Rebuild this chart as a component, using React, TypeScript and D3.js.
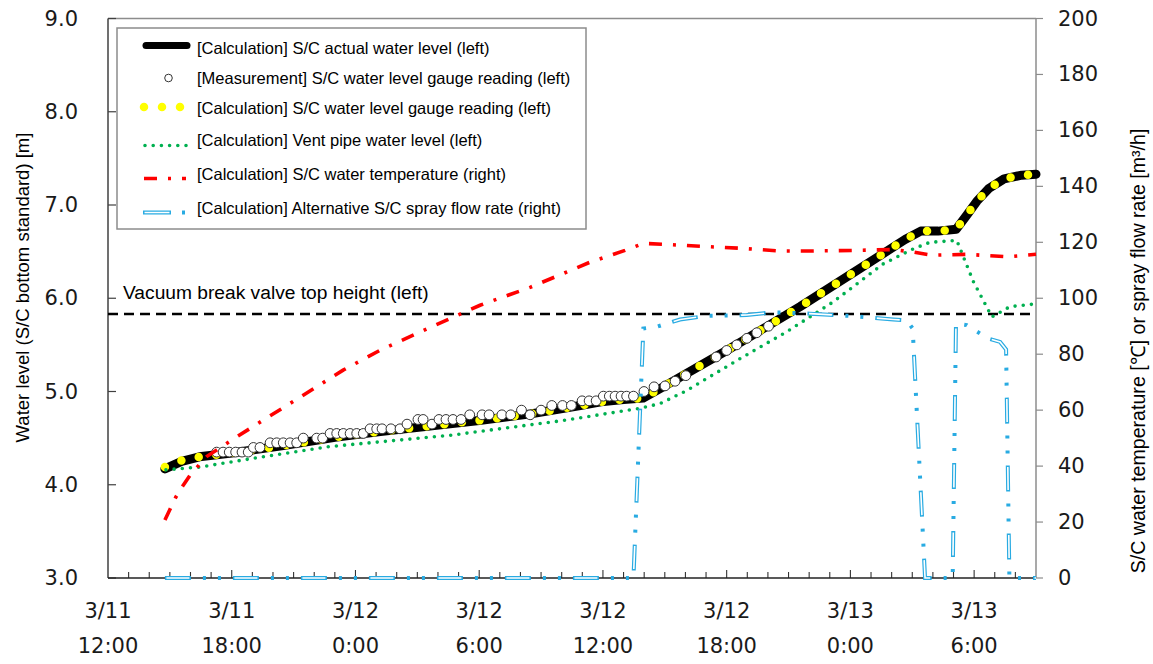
import React from 'react';
import * as d3 from 'd3';

// ---- axis / label data ----
const xTickHours = [0, 6, 12, 18, 24, 30, 36, 42];
const xTickDates = ['3/11', '3/11', '3/12', '3/12', '3/12', '3/12', '3/13', '3/13'];
const xTickTimes = ['12:00', '18:00', '0:00', '6:00', '12:00', '18:00', '0:00', '6:00'];
const leftTicks = [3, 4, 5, 6, 7, 8, 9];
const rightTicks = [0, 20, 40, 60, 80, 100, 120, 140, 160, 180, 200];
const vacuumLevel = 5.83;

// hours since 3/11 12:00
// [Calculation] S/C actual water level (left)
const actualHours = [2.76, 3.57, 4.43, 6.0, 8.5, 11.0, 13.2, 15.6, 18.0, 20.5, 22.9, 23.9, 25.0, 25.95, 26.92, 30.0, 33.56, 36.47, 38.65, 39.41, 40.25, 41.13, 41.64, 42.13, 42.73, 43.45, 44.31, 45.0];
const actualLevel = [4.17, 4.25, 4.3, 4.34, 4.42, 4.51, 4.57, 4.63, 4.69, 4.76, 4.85, 4.89, 4.915, 4.93, 5.05, 5.44, 5.91, 6.32, 6.63, 6.72, 6.72, 6.74, 6.89, 7.04, 7.18, 7.28, 7.32, 7.33];

// [Calculation] S/C water level gauge reading (left)
const gaugeCalcHours = [2.76, 3.57, 4.43, 6.0, 8.5, 11.0, 13.2, 15.6, 18.0, 20.5, 22.9, 23.9, 25.0, 25.95, 26.92, 30.0, 33.56, 36.47, 38.65, 39.41, 40.25, 41.13, 41.64, 42.13, 42.73, 43.45, 44.31, 45.0];
const gaugeCalcLevel = [4.19, 4.26, 4.3, 4.34, 4.42, 4.51, 4.57, 4.63, 4.69, 4.76, 4.85, 4.89, 4.915, 4.93, 5.05, 5.44, 5.91, 6.32, 6.63, 6.72, 6.72, 6.74, 6.89, 7.04, 7.18, 7.28, 7.32, 7.33];

// [Measurement] S/C water level gauge reading (left)
const measHours = [5.27, 5.58, 5.88, 6.19, 6.5, 6.8, 7.05, 7.37, 7.86, 8.18, 8.5, 8.83, 9.15, 9.47, 10.12, 10.41,
  10.77, 11.09, 11.41, 11.74, 12.06, 12.38, 12.71, 13.03, 13.29, 13.72, 14.16, 14.5, 15.03, 15.28, 15.71,
  16.05, 16.39, 16.73, 17.12, 17.54, 18.14, 18.48, 19.1, 19.53, 20.05, 20.47, 21.0, 21.52, 22.04, 22.47,
  22.99, 23.33, 23.67, 24.02, 24.31, 24.59, 24.88, 25.15, 25.48, 25.99, 26.48, 27.01, 27.5, 28.02,
  29.49, 30.0, 30.49, 30.98, 31.46, 32.03];
const measLevel = [4.35, 4.35, 4.35, 4.35, 4.35, 4.35, 4.4, 4.4, 4.45, 4.45, 4.45, 4.45, 4.45, 4.5, 4.5, 4.5,
  4.55, 4.55, 4.55, 4.55, 4.55, 4.55, 4.6, 4.6, 4.6, 4.6, 4.6, 4.65, 4.7, 4.7, 4.65,
  4.7, 4.7, 4.7, 4.7, 4.75, 4.75, 4.75, 4.75, 4.75, 4.8, 4.75, 4.8, 4.85, 4.85, 4.85,
  4.9, 4.9, 4.9, 4.95, 4.95, 4.95, 4.95, 4.95, 4.95, 5.0, 5.05, 5.06, 5.11, 5.17,
  5.37, 5.44, 5.5, 5.57, 5.63, 5.7];

// [Calculation] Vent pipe water level (left)
const ventHours = [2.81, 4.46, 7.52, 10.77, 16.59, 22.11, 25.8, 26.77, 28.06, 30.63, 32.91, 35.16, 37.6, 39.05, 39.86, 41.16, 41.96, 42.86, 43.74, 45.0];
const ventLevel = [4.16, 4.19, 4.3, 4.41, 4.53, 4.69, 4.82, 4.87, 5.01, 5.35, 5.64, 5.96, 6.37, 6.53, 6.6, 6.62, 6.18, 5.8, 5.91, 5.94];

// [Calculation] S/C water temperature (right)
const tempHours = [2.76, 3.28, 3.65, 4.0, 4.8, 6.0, 7.52, 9.31, 11.4, 13.19, 15.62, 18.04, 20.47, 23.38, 25.07, 25.96, 26.93, 28.71, 30.81, 32.59, 34.2, 36.14, 38.08, 39.05, 39.95, 41.64, 43.66, 45.0];
const tempValue = [20.7, 28.8, 33.2, 37.0, 43.5, 49.3, 56.4, 64.6, 74.3, 81.4, 89.6, 97.5, 103.9, 112.9, 117.1, 119.6, 119.3, 118.6, 117.8, 116.9, 116.9, 117.1, 117.4, 116.5, 115.4, 115.7, 114.8, 115.7];

// [Calculation] Alternative S/C spray flow rate (right)
const sprayHours = [2.76, 25.48, 25.96, 26.61, 27.74, 29.04, 30.97, 32.27, 34.04, 36.14, 38.08, 38.73, 39.02, 39.62, 40.96, 41.12, 41.64, 42.09, 42.69, 43.26, 43.55, 43.71, 45.0];
const sprayFlow = [0, 0, 89.2, 89.8, 92.4, 93.7, 94.0, 95.0, 94.5, 93.6, 92.4, 92.1, 89.2, 0, 0, 91, 90.4, 88.3, 85.6, 84.4, 81.7, 0, 0];

const legendLabels = [
  '[Calculation] S/C actual water level (left)',
  '[Measurement] S/C water level gauge reading (left)',
  '[Calculation] S/C water level gauge reading (left)',
  '[Calculation] Vent pipe water level (left)',
  '[Calculation] S/C water temperature (right)',
  '[Calculation] Alternative S/C spray flow rate (right)',
];

const NUM_FONT = '"DejaVu Sans", Verdana, sans-serif';
const TXT_FONT = '"Liberation Sans", Arial, sans-serif';

const RED_DASH = '13 11 3 11';
const BLUE_DASH = '26 12 3 12 3 12';
const BLUE_INNER = '0 1.5 23 43.5';

export default function App() {
  const W = 1153, H = 664;
  const x = d3.scaleLinear().domain([0, 45]).range([108, 1036]);
  const yL = d3.scaleLinear().domain([3, 9]).range([578, 18.5]);
  const yR = d3.scaleLinear().domain([0, 200]).range([578, 18.5]);
  const lineL = d3.line<[number, number]>().x(d => x(d[0])).y(d => yL(d[1]));
  const lineR = d3.line<[number, number]>().x(d => x(d[0])).y(d => yR(d[1]));
  const zip = (a: number[], b: number[]) => a.map((v, i) => [v, b[i]] as [number, number]);

  const actualPath = lineL(zip(actualHours, actualLevel)) || '';
  const gaugePath = lineL(zip(gaugeCalcHours, gaugeCalcLevel)) || '';
  const ventPath = lineL(zip(ventHours, ventLevel)) || '';
  const tempPath = lineR(zip(tempHours, tempValue)) || '';
  const sprayPath = lineR(zip(sprayHours, sprayFlow)) || '';
  const hourTicks = d3.range(1, 45);

  const x0 = 108, x1 = 1036, yTop = 18.5, yBot = 578;

  // legend geometry
  const lgX = 117, lgY = 28, lgW = 469, lgH = 201;
  const rowText = [48, 78, 107.5, 139.5, 173.5, 207.5];
  const symOff = [-2.5, 0, -0.5, 6, 5, 5];
  const sx0 = 143, sx1 = 187;

  const symbol = (i: number) => {
    const y = rowText[i] + symOff[i];
    switch (i) {
      case 0:
        return <line x1={sx0 + 3} x2={sx1} y1={y} y2={y} stroke="#000" strokeWidth={7} strokeLinecap="round" />;
      case 1:
        return <circle cx={168.5} cy={y} r={3.8} fill="#fff" stroke="#333" strokeWidth={1} />;
      case 2:
        return <line x1={144} x2={181} y1={y} y2={y} stroke="#FFFF00" strokeWidth={8.5} strokeLinecap="round" strokeDasharray="0 18" />;
      case 3:
        return <line x1={145} x2={187} y1={y} y2={y} stroke="#00B050" strokeWidth={3.6} strokeLinecap="round" strokeDasharray="0 8.2" />;
      case 4:
        return <line x1={144} x2={186} y1={y} y2={y} stroke="#FF0000" strokeWidth={3.6} strokeDasharray={RED_DASH} />;
      default:
        return (
          <g>
            <line x1={143} x2={186} y1={y} y2={y} stroke="#29ABE2" strokeWidth={4} strokeDasharray="28 11 3 20" />
            <line x1={143} x2={186} y1={y} y2={y} stroke="#fff" strokeWidth={1.6} strokeDasharray="0 1.5 25 60" />
          </g>
        );
    }
  };

  return (
    <svg width={W} height={H} viewBox={`0 0 ${W} ${H}`} style={{ position: 'absolute', left: 0, top: 0, background: '#fff' }}>
      <rect x={0} y={0} width={W} height={H} fill="#fff" />
      {/* plot border */}
      <line x1={x0} x2={x1} y1={yTop} y2={yTop} stroke="#8c8c8c" strokeWidth={1.5} />
      <line x1={x1} x2={x1} y1={yTop} y2={yBot} stroke="#8c8c8c" strokeWidth={1.5} />
      {/* left axis */}
      <line x1={x0} x2={x0} y1={yTop} y2={yBot} stroke="#404040" strokeWidth={1.5} />
      {leftTicks.map(v => (
        <g key={'l' + v}>
          <line x1={x0} x2={x0 + 8} y1={yL(v)} y2={yL(v)} stroke="#404040" strokeWidth={1.2} />
          <text x={78} y={yL(v)} textAnchor="end" dominantBaseline="central" fontFamily={NUM_FONT} fontSize={21} fill="#1a1a1a">{d3.format('.1f')(v)}</text>
        </g>
      ))}
      {/* right axis */}
      {rightTicks.map(v => (
        <g key={'r' + v}>
          <line x1={x1} x2={x1 + 7} y1={yR(v)} y2={yR(v)} stroke="#8c8c8c" strokeWidth={1.2} />
          <text x={1058} y={yR(v)} textAnchor="start" dominantBaseline="central" fontFamily={NUM_FONT} fontSize={21} fill="#1a1a1a">{v}</text>
        </g>
      ))}
      {/* bottom axis */}
      {hourTicks.map(h => (
        <line key={'h' + h} x1={x(h)} x2={x(h)} y1={yBot} y2={yBot - (h % 6 === 0 ? 8 : 6)} stroke="#333" strokeWidth={1.1} />
      ))}
      <line x1={x0} x2={x1} y1={yBot} y2={yBot} stroke="#222" strokeWidth={1.5} />
      {xTickHours.map((h, i) => (
        <g key={'xl' + h}>
          <text x={x(h)} y={618} textAnchor="middle" fontFamily={NUM_FONT} fontSize={21} fill="#1a1a1a">{xTickDates[i]}</text>
          <text x={x(h)} y={653} textAnchor="middle" fontFamily={NUM_FONT} fontSize={21} fill="#1a1a1a">{xTickTimes[i]}</text>
        </g>
      ))}

      {/* vacuum break valve line */}
      <line x1={x0} x2={x1} y1={yL(vacuumLevel)} y2={yL(vacuumLevel)} stroke="#000" strokeWidth={2.5} strokeDasharray="10 6" />
      <text x={123} y={298.5} fontFamily={TXT_FONT} fontSize={19.2} fill="#000">Vacuum break valve top height (left)</text>

      {/* series */}
      <path d={actualPath} fill="none" stroke="#000" strokeWidth={9} strokeLinejoin="round" strokeLinecap="round" />
      <path d={gaugePath} fill="none" stroke="#FFFF00" strokeWidth={8.5} strokeLinecap="round" strokeDasharray="0 17.7" />
      {measHours.map((h, i) => (
        <circle key={'m' + i} cx={x(h)} cy={yL(measLevel[i])} r={4.9} fill="#fff" stroke="#333" strokeWidth={1} />
      ))}
      <path d={ventPath} fill="none" stroke="#00B050" strokeWidth={3.6} strokeLinecap="round" strokeDasharray="0 8.2" />
      <path d={tempPath} fill="none" stroke="#FF0000" strokeWidth={3.6} strokeDasharray={RED_DASH} />
      <path d={sprayPath} fill="none" stroke="#29ABE2" strokeWidth={4} strokeDasharray={BLUE_DASH} />
      <path d={sprayPath} fill="none" stroke="#fff" strokeWidth={1.6} strokeDasharray={BLUE_INNER} />

      {/* legend */}
      <rect x={lgX} y={lgY} width={lgW} height={lgH} fill="#fff" stroke="#8c8c8c" strokeWidth={1.5} />
      {legendLabels.map((lab, i) => (
        <g key={'lg' + i}>
          {symbol(i)}
          <text x={197} y={rowText[i]} dominantBaseline="central" fontFamily={TXT_FONT} fontSize={16.5} fill="#000">{lab}</text>
        </g>
      ))}

      {/* axis titles */}
      <text transform="translate(22,287.5) rotate(-90)" textAnchor="middle" dominantBaseline="central" fontFamily={TXT_FONT} fontSize={18.5} fill="#000">Water level  (S/C bottom standard) [m]</text>
      <text transform="translate(1138,351) rotate(-90)" textAnchor="middle" dominantBaseline="central" fontFamily={TXT_FONT} fontSize={19.6} fill="#000">S/C water temperature [℃] or spray flow rate [m³/h]</text>
    </svg>
  );
}
